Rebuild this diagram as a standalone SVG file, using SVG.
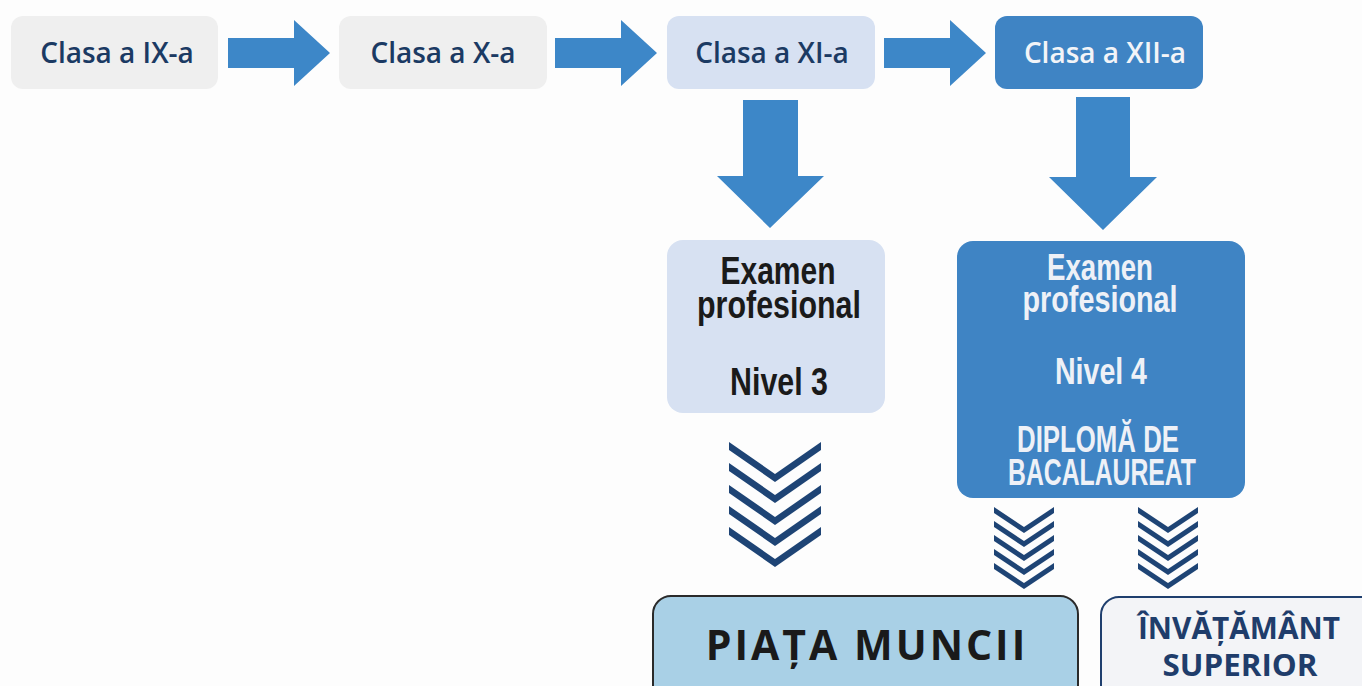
<svg xmlns="http://www.w3.org/2000/svg" width="1362" height="686" viewBox="0 0 1362 686">
<defs>
<style>
.top{font-family:"Open Sans","Liberation Sans",sans-serif;font-weight:600;font-size:28px;text-anchor:middle}
.cond{font-family:"Liberation Sans","Arial",sans-serif;font-weight:bold;text-anchor:middle}
.big{font-family:"Open Sans","Liberation Sans",sans-serif;font-weight:700;text-anchor:middle}
.arrow{fill:#3d87c8}
.chev{fill:#1e4475}
</style>
<path id="chevL" d="M0,0 L46,32 L92,0 L92,8 L46,40 L0,8 Z"/>
<path id="chevS" d="M0,0 L30,20 L60,0 L60,6 L30,26 L0,6 Z"/>
</defs>
<rect width="1362" height="686" fill="#fdfdfd"/>

<g id="connectors">
<path class="arrow" d="M228,38 H294 V20 L330,53 L294,86 V68 H228 Z"/>
<path class="arrow" d="M555,38 H621 V20 L657,53 L621,86 V68 H555 Z"/>
<path class="arrow" d="M884,38 H950 V20 L986,53 L950,86 V68 H884 Z"/>
<path class="arrow" d="M743,100 H798 V176 H824 L770,228 L717,176 H743 Z"/>
<path class="arrow" d="M1076,97 H1130 V177 H1157 L1103,230 L1049,177 H1076 Z"/>
<g class="chev">
<use href="#chevL" x="729" y="442"/>
<use href="#chevL" x="729" y="463"/>
<use href="#chevL" x="729" y="485"/>
<use href="#chevL" x="729" y="506"/>
<use href="#chevL" x="729" y="527"/>
<use href="#chevS" x="994" y="507"/>
<use href="#chevS" x="994" y="521"/>
<use href="#chevS" x="994" y="535"/>
<use href="#chevS" x="994" y="549"/>
<use href="#chevS" x="994" y="563"/>
<use href="#chevS" x="1138" y="507"/>
<use href="#chevS" x="1138" y="521"/>
<use href="#chevS" x="1138" y="535"/>
<use href="#chevS" x="1138" y="549"/>
<use href="#chevS" x="1138" y="563"/>
</g>
</g>

<g id="clasa9">
<rect x="11" y="16" width="207" height="73" rx="12" fill="#efefef"/>
<text class="top" x="117" y="63" fill="#1b3a63">Clasa a IX-a</text>
</g>
<g id="clasa10">
<rect x="339" y="16" width="208" height="73" rx="12" fill="#efefef"/>
<text class="top" x="443" y="63" fill="#1b3a63">Clasa a X-a</text>
</g>
<g id="clasa11">
<rect x="667" y="16" width="208" height="73" rx="12" fill="#d7e1f2"/>
<text class="top" x="772" y="63" fill="#1b3a63">Clasa a XI-a</text>
</g>
<g id="clasa12">
<rect x="995" y="16" width="208" height="73" rx="12" fill="#3f84c4"/>
<text class="top" x="1105" y="63" fill="#f2f4f8">Clasa a XII-a</text>
</g>

<g id="examen3">
<rect x="667" y="240" width="218" height="173" rx="16" fill="#d7e1f2"/>
<g class="cond" fill="#1a1a1a" font-size="39">
<text x="778" y="284" textLength="115" lengthAdjust="spacingAndGlyphs">Examen</text>
<text x="779" y="318" textLength="164" lengthAdjust="spacingAndGlyphs">profesional</text>
<text x="779" y="395" textLength="98" lengthAdjust="spacingAndGlyphs">Nivel 3</text>
</g>
</g>

<g id="examen4">
<rect x="957" y="241" width="288" height="257" rx="16" fill="#3f84c4"/>
<g class="cond" fill="#eef1f7" font-size="36">
<text x="1100" y="280" textLength="106" lengthAdjust="spacingAndGlyphs">Examen</text>
<text x="1100" y="312" textLength="155" lengthAdjust="spacingAndGlyphs">profesional</text>
<text x="1101" y="384" textLength="92" lengthAdjust="spacingAndGlyphs">Nivel 4</text>
<text x="1098" y="452" textLength="162" lengthAdjust="spacingAndGlyphs">DIPLOMĂ DE</text>
<text x="1102" y="485" textLength="188" lengthAdjust="spacingAndGlyphs">BACALAUREAT</text>
</g>
</g>

<g id="piata">
<rect x="653" y="596" width="425" height="110" rx="18" fill="#a9d0e6" stroke="#2a2a2a" stroke-width="2"/>
<text class="big" x="867" y="660" font-size="41" letter-spacing="3" fill="#1a1a1a">PIAȚA MUNCII</text>
</g>

<g id="invatamant">
<rect x="1101" y="597" width="280" height="110" rx="18" fill="#f3f4f7" stroke="#1f3f6e" stroke-width="2"/>
<text class="big" x="1239" y="639" font-size="30" textLength="202" lengthAdjust="spacingAndGlyphs" fill="#1f3d6b">ÎNVĂȚĂMÂNT</text>
<text class="big" x="1240" y="676" font-size="30" textLength="155" lengthAdjust="spacingAndGlyphs" fill="#1f3d6b">SUPERIOR</text>
</g>
</svg>
